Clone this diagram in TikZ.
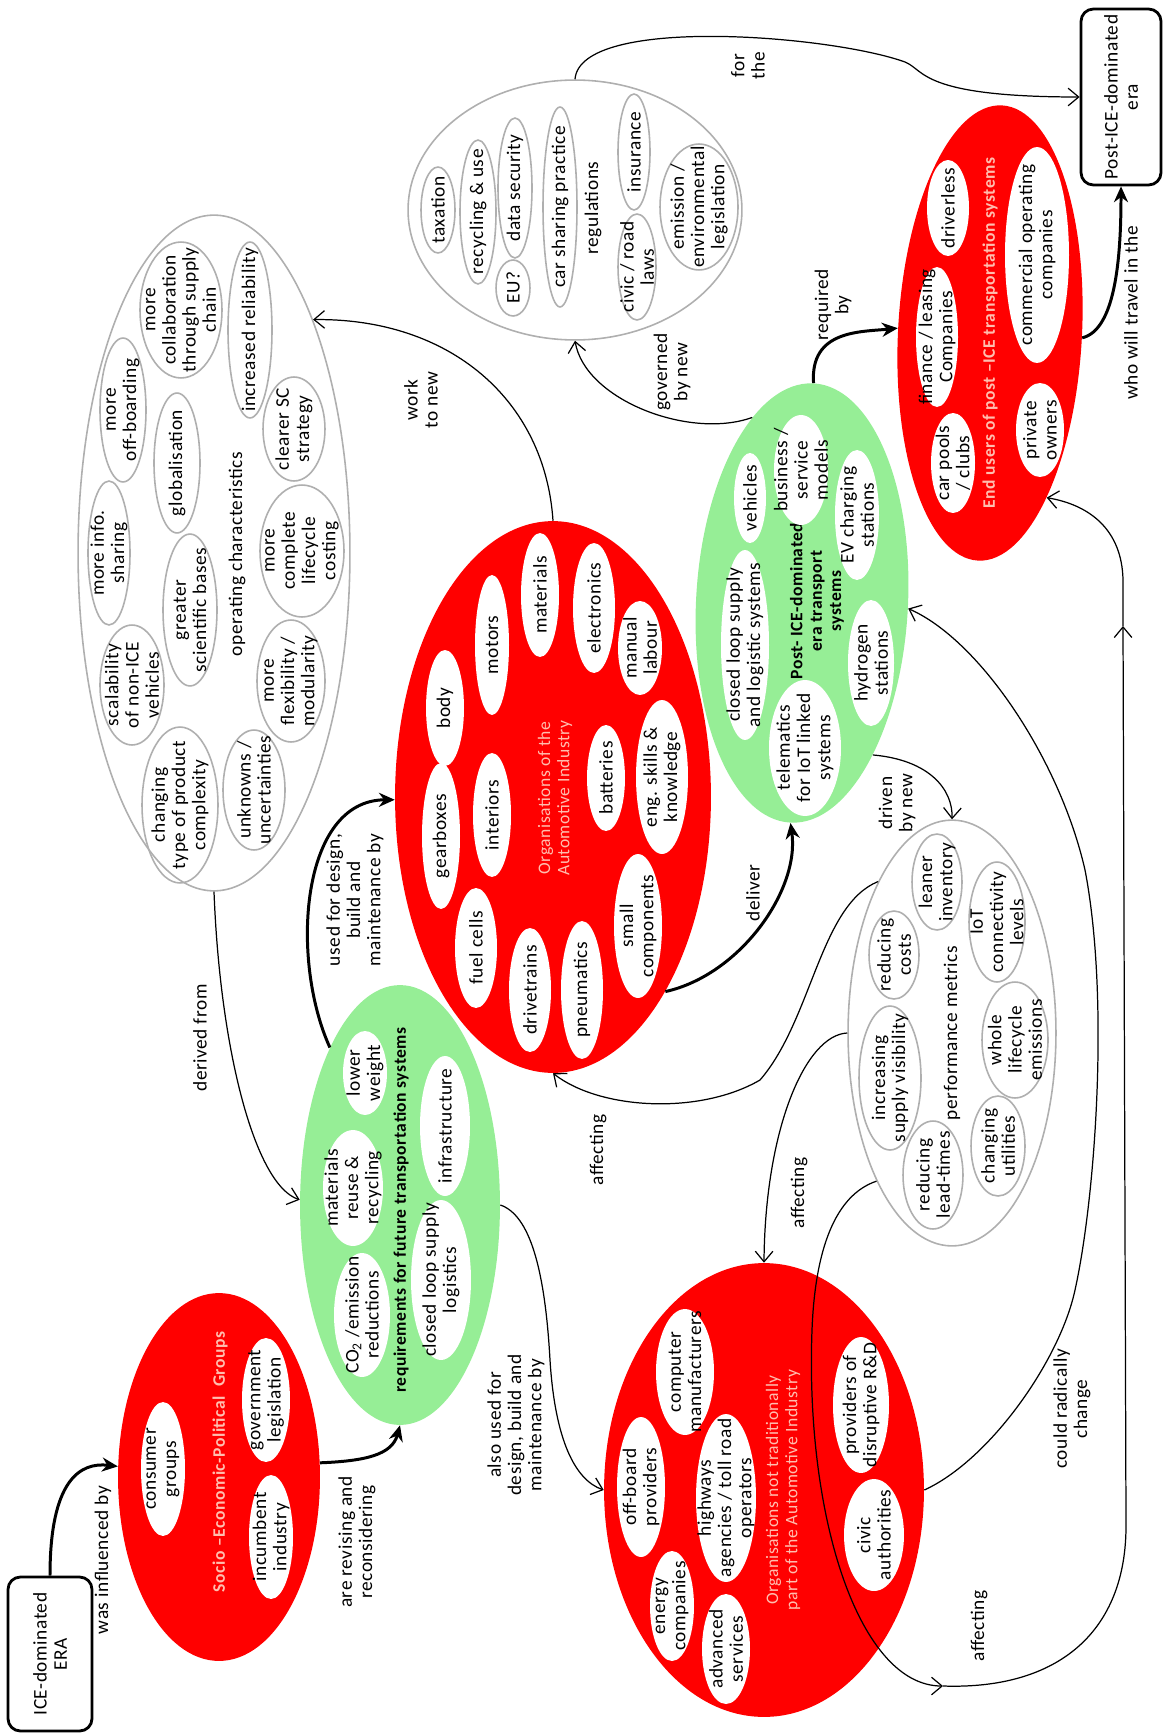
\documentclass[tikz,border=0pt]{standalone}
\usepackage{fontspec}
\setmainfont{Carlito}[LetterSpace=3]
\usetikzlibrary{shapes.geometric,arrows.meta}
\definecolor{cred}{RGB}{255,0,0}
\definecolor{cgreen}{RGB}{150,238,150}
\definecolor{cgrey}{RGB}{175,175,175}
\definecolor{cpink}{RGB}{255,190,175}
\tikzset{
  sz/.style 2 args={minimum height=#1*0.04cm, minimum width=#2*0.04cm},
  ell/.style={ellipse, inner sep=-40pt},
  redell/.style={ell, fill=cred},
  greenell/.style={ell, fill=cgreen},
  greyell/.style={ell, draw=cgrey, line width=0.9pt, fill=white},
  wbub/.style={ell, fill=white},
  gbub/.style={ell, draw=cgrey, line width=0.9pt},
  ttl/.style={text=cpink, font=\fontsize{10}{11}\selectfont},
  ttlb/.style={text=cpink, font=\fontsize{10}{11}\selectfont\bfseries},
  grt/.style={font=\fontsize{10}{11}\selectfont\bfseries},
  era/.style={draw, line width=1.6pt, rounded corners=7pt, inner sep=0pt},
  arr/.style={line width=0.7pt, -{Straight Barb[length=6pt,width=10pt]}},
  fatarr/.style={line width=1.7pt, -{Stealth[length=9pt,width=8pt]}}
}
\begin{document}
\begin{tikzpicture}[x=0.02cm, y=-0.02cm, every node/.style={rotate=90, align=center},
  font=\fontsize{11}{11.5}\selectfont]
  \useasboundingbox (0, 0) rectangle (1164, 1733);
  \node [era, sz={42}{77}] (ice) at (50, 1654) {ICE-dominated\\ERA};
  \node [era, sz={40}{88}] (post) at (1121, 97) {Post-ICE-dominated\\era};

  \node [redell, sz={101}{184}] (socio) at (219, 1477) {};
  \node [ttlb] (socio-t) at (220, 1462) {Socio –Economic-Political\ \ Groups};
  \node [wbub, sz={22}{67}] (consumer) at (163, 1469) {consumer\\groups};
  \node [wbub, sz={24}{62}] (govleg) at (266, 1400) {government\\legislation};
  \node [wbub, sz={22}{62}] (incumbent) at (271, 1537) {incumbent\\industry};

  \node [greenell, sz={100}{220}] (req) at (400, 1205) {};
  \node [grt] (req-t) at (401, 1210) {requirements for future transportation systems};
  \node [wbub, sz={22}{42}] (lowerw) at (365, 1073) {lower\\weight};
  \node [wbub, sz={30}{58}] (matreuse) at (353, 1188) {materials\\reuse \&\\recycling};
  \node [wbub, sz={28}{62}] (co2) at (362, 1315) {CO\textsubscript{2} /emission\\reductions};
  \node [wbub, sz={25}{70}] (infra) at (445, 1126) {infrastructure};
  \node [wbub, sz={30}{80}] (closedloop) at (441, 1280) {closed loop supply\\logistics};

  \node [redell, sz={158}{276}] (orga) at (553, 797) {};
  \node [ttl] (orga-t) at (555, 798) {Organisations of the\\Automotive Industry};
  \node [wbub, sz={19}{58}] (body) at (445, 708) {body};
  \node [wbub, sz={17}{70}] (motors) at (492, 645) {motors};
  \node [wbub, sz={19}{62}] (materials) at (540, 595) {materials};
  \node [wbub, sz={21}{65}] (electronics) at (594, 608) {electronics};
  \node [wbub, sz={22}{47}] (manual) at (640, 648) {manual\\labour};
  \node [wbub, sz={19}{62}] (interiors) at (492, 815) {interiors};
  \node [wbub, sz={19}{73}] (gearboxes) at (441, 836) {gearboxes};
  \node [wbub, sz={19}{53}] (batteries) at (606, 778) {batteries};
  \node [wbub, sz={26}{77}] (engskills) at (662, 777) {eng. skills \&\\knowledge};
  \node [wbub, sz={21}{60}] (fuelcells) at (476, 948) {fuel cells};
  \node [wbub, sz={21}{62}] (drivetrains) at (530, 990) {drivetrains};
  \node [wbub, sz={21}{69}] (pneumatics) at (582, 990) {pneumatics};
  \node [wbub, sz={24}{72}] (smallcomp) at (638, 926) {small\\components};

  \node [greyell, sz={136}{338}] (opc) at (214, 553) {};
  \node (opc-t) at (237, 554) {operating characteristics};
  \node [gbub, sz={41}{68}] (collab) at (181, 310) {more\\collaboration\\through supply\\chain};
  \node [gbub, sz={22}{88}] (reliab) at (250, 330) {increased reliability};
  \node [gbub, sz={23}{72}] (offboard) at (123, 410) {more\\off-boarding};
  \node [gbub, sz={23}{70}] (globalis) at (177, 463) {globalisation};
  \node [gbub, sz={31}{52}] (clearer) at (294, 429) {clearer SC\\strategy};
  \node [gbub, sz={21}{72}] (infoshare) at (109, 553) {more info.\\sharing};
  \node [gbub, sz={27}{76}] (scientific) at (190, 610) {greater\\scientific bases};
  \node [gbub, sz={42}{66}] (lifecycle) at (302, 551) {more\\complete\\lifecycle\\costing};
  \node [gbub, sz={32}{60}] (scalab) at (132, 685) {scalability\\of non-ICE\\vehicles};
  \node [gbub, sz={34}{61}] (flexib) at (291, 681) {more\\flexibility /\\modularity};
  \node [gbub, sz={38}{78}] (changing) at (180, 805) {changing\\type of product\\complexity};
  \node [gbub, sz={31}{60}] (unknowns) at (254, 790) {unknowns /\\uncertainties};

  \node [greyell, sz={167}{130}] (regs) at (575, 210) {};
  \node (regs-t) at (593, 208) {regulations};
  \node [gbub, sz={17}{43}] (taxation) at (438, 210) {taxation};
  \node [gbub, sz={18}{72}] (recycl) at (478, 212) {recycling \& use};
  \node [gbub, sz={17}{70}] (datasec) at (515, 188) {data security};
  \node [gbub, sz={17}{28}] (eu) at (513, 288) {EU?};
  \node [gbub, sz={17}{100}] (carshare) at (560, 207) {car sharing practice};
  \node [gbub, sz={16}{58}] (insurance) at (634, 152) {insurance};
  \node [gbub, sz={19}{53}] (civic) at (637, 267) {civic / road\\laws};
  \node [gbub, sz={39}{63}] (emission) at (699, 207) {emission /\\environmental\\legislation};

  \node [greenell, sz={106}{220}, rotate=-3] (pics) at (802, 603) {};
  \node [grt] (pics-t) at (817, 601) {Post- ICE-dominated\\era transport\\systems};
  \node [wbub, sz={16}{45}] (vehicles) at (750, 498) {vehicles};
  \node [wbub, sz={24}{95}] (closedsys) at (745, 645) {closed loop supply\\and logistic systems};
  \node [wbub, sz={27}{55}] (business) at (801, 470) {business /\\service\\models};
  \node [wbub, sz={22}{65}] (evcharge) at (857, 515) {EV charging\\stations};
  \node [wbub, sz={36}{68}] (telemat) at (805, 748) {telematics\\for IoT linked\\systems};
  \node [wbub, sz={23}{63}] (hydrogen) at (871, 663) {hydrogen\\stations};

  \node [redell, sz={92}{228}, rotate=-3] (endu) at (990, 333) {};
  \node [ttlb] (endu-t) at (990, 333) {End users of post –ICE transportation systems};
  \node [wbub, sz={21}{48}] (driverless) at (948, 208) {driverless};
  \node [wbub, sz={21}{70}] (finance) at (937, 337) {finance / leasing\\Companies};
  \node [wbub, sz={32}{108}] (commercial) at (1037, 255) {commercial operating\\companies};
  \node [wbub, sz={22}{50}] (carpools) at (953, 463) {car pools\\/ clubs};
  \node [wbub, sz={24}{47}] (private) at (1040, 430) {private\\owners};

  \node [greyell, sz={104}{213}] (perf) at (952, 1033) {};
  \node (perf-t) at (952, 1033) {performance metrics};
  \node [gbub, sz={25}{44}] (redcosts) at (894, 955) {reducing\\costs};
  \node [gbub, sz={25}{48}] (leaner) at (937, 882) {leaner\\inventory};
  \node [gbub, sz={28}{60}] (iot) at (997, 922) {IoT\\connectivity\\levels};
  \node [gbub, sz={31}{72}] (incvis) at (890, 1078) {increasing\\supply visibility};
  \node [gbub, sz={33}{58}] (whole) at (1015, 1040) {whole\\lifecycle\\emissions};
  \node [gbub, sz={30}{54}] (redlead) at (933, 1175) {reducing\\lead-times};
  \node [gbub, sz={27}{50}] (changutil) at (998, 1146) {changing\\utilities};

  \node [redell, sz={160}{227}] (orgn) at (764, 1490) {};
  \node [ttl] (orgn-t) at (783, 1490) {Organisations not traditionally\\part of the Automotive Industry};
  \node [wbub, sz={24}{70}] (offboard2) at (641, 1487) {off-board\\providers};
  \node [wbub, sz={29}{63}] (computer) at (685, 1372) {computer\\manufacturers};
  \node [wbub, sz={30}{84}] (highways) at (726, 1498) {highways\\agencies / toll road\\operators};
  \node [wbub, sz={22}{55}] (energy) at (672, 1606) {energy\\companies};
  \node [wbub, sz={24}{55}] (advanced) at (726, 1649) {advanced\\services};
  \node [wbub, sz={28}{68}] (disrupt) at (861, 1405) {providers of\\disruptive R\&D};
  \node [wbub, sz={30}{56}] (civicauth) at (874, 1535) {civic\\authorities};

  \coordinate (jn) at (943, 1686);
  \coordinate (mid) at (1123, 626);

  \draw [fatarr] (ice.east) .. controls (50, 1480) and (80, 1462) .. (socio.84);
  \draw [fatarr] (socio.278) .. controls (365, 1461) and (392, 1455) .. (req.180);
  \draw [fatarr] (req.24) .. controls (290, 960) and (300, 800) .. (orga.91);
  \draw [arr] (opc.180) .. controls (220, 1050) and (255, 1185) .. (req.87);
  \draw [arr] (orga.0) .. controls (545, 400) and (450, 318) .. (opc.337);
  \draw [arr] (pics.18) .. controls (690, 440) and (585, 400) .. (regs.180);
  \draw [arr] (regs.0) .. controls (580, 15) and (830, 35) .. (905, 62) .. controls (925, 70) and (920, 97) .. (post.north);
  \draw [fatarr] (pics.0) .. controls (810, 330) and (860, 332) .. (endu.90);
  \draw [fatarr] (endu.270) .. controls (1115, 330) and (1121, 260) .. (post.west);
  \draw [fatarr] (orga.210) .. controls (740, 975) and (800, 890) .. (pics.180);
  \draw [arr] (pics.208) .. controls (930, 760) and (953, 790) .. (perf.0);
  \draw [arr] (perf.26) .. controls (820, 905) and (812, 1020) .. (760, 1080) .. controls (700, 1115) and (600, 1110) .. (orga.180);
  \draw [arr] (perf.90) .. controls (805, 1035) and (765, 1130) .. (orgn.0);
  \draw [arr] (perf.153) .. controls (835, 1195) and (815, 1250) .. (812, 1330) .. controls (805, 1520) and (860, 1686) .. (jn);
  \draw [arr] (jn) .. controls (1060, 1690) and (1126, 1630) .. (1126, 1526) -- (mid);
  \draw [arr] (mid) -- (1123, 580) .. controls (1122, 530) and (1090, 505) .. (endu.202);
  \draw [arr] (orgn.270) .. controls (990, 1460) and (1060, 1360) .. (1075, 1290) .. controls (1095, 1200) and (1110, 1000) .. (1085, 870) .. controls (1060, 760) and (980, 640) .. (pics.270);
  \draw [arr] (req.270) .. controls (530, 1215) and (545, 1270) .. (550, 1360) .. controls (555, 1440) and (575, 1480) .. (orgn.90);

  \node (l-infl) at (103, 1560) {was influenced by};
  \node (l-rev) at (357, 1542) {are revising and\\reconsidering};
  \node (l-used) at (355, 900) {used for design,\\build and\\maintenance by};
  \node (l-derived) at (200, 1038) {derived from};
  \node (l-work) at (421, 400) {work\\to new};
  \node (l-gov) at (672, 372) {governed\\by new};
  \node (l-for) at (748, 66) {for\\the};
  \node (l-req) at (833, 305) {required\\by};
  \node (l-who) at (1131, 313) {who will travel in the};
  \node (l-deliver) at (753, 893) {deliver};
  \node (l-driven) at (897, 803) {driven\\by new};
  \node (l-aff1) at (598, 1150) {affecting};
  \node (l-aff2) at (799, 1193) {affecting};
  \node (l-aff3) at (979, 1626) {affecting};
  \node (l-could) at (1072, 1409) {could radically\\change};
  \node (l-also) at (516, 1425) {also used for\\design, build and\\maintenance by};
\end{tikzpicture}
\end{document}
